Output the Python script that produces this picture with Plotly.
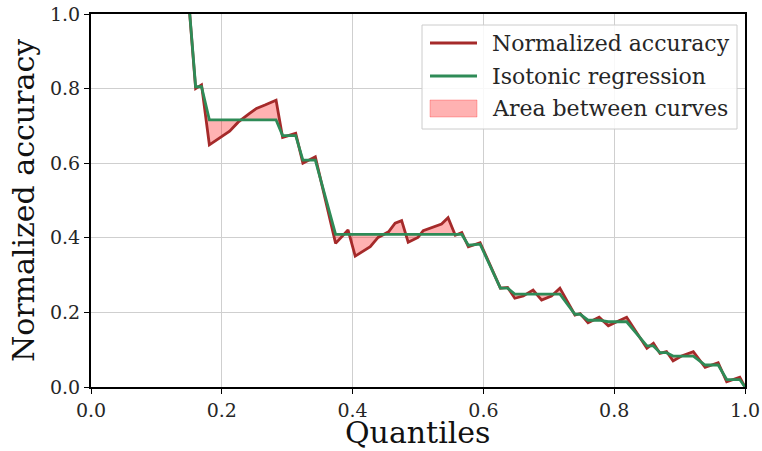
import plotly.graph_objects as go

quantiles = [0.140, 0.160, 0.169, 0.181, 0.212, 0.225, 0.243, 0.253, 0.266, 0.283,
             0.293, 0.313, 0.324, 0.343, 0.374, 0.393, 0.404, 0.427, 0.439, 0.455,
             0.465, 0.475, 0.485, 0.500, 0.508, 0.523, 0.536, 0.546, 0.557, 0.567,
             0.577, 0.595, 0.626, 0.637, 0.648, 0.661, 0.676, 0.689, 0.704, 0.717,
             0.740, 0.748, 0.760, 0.777, 0.791, 0.804, 0.819, 0.850, 0.860, 0.870,
             0.880, 0.890, 0.903, 0.921, 0.939, 0.959, 0.972, 0.992, 1.000]

normalized_accuracy = [1.240, 0.800, 0.810, 0.649, 0.686, 0.710, 0.734, 0.747, 0.756, 0.769,
                       0.669, 0.680, 0.600, 0.617, 0.385, 0.421, 0.351, 0.376, 0.401, 0.416,
                       0.439, 0.446, 0.388, 0.401, 0.419, 0.428, 0.437, 0.454, 0.407, 0.414,
                       0.376, 0.387, 0.265, 0.267, 0.238, 0.244, 0.260, 0.233, 0.244, 0.265,
                       0.193, 0.197, 0.172, 0.187, 0.164, 0.175, 0.187, 0.104, 0.117, 0.090,
                       0.095, 0.070, 0.083, 0.095, 0.053, 0.065, 0.014, 0.026, 0.000]

isotonic_regression = [1.240, 0.805, 0.805, 0.716, 0.716, 0.716, 0.716, 0.716, 0.716, 0.716,
                       0.674, 0.674, 0.608, 0.608, 0.409, 0.409, 0.409, 0.409, 0.409, 0.409,
                       0.409, 0.409, 0.409, 0.409, 0.409, 0.409, 0.409, 0.409, 0.409, 0.409,
                       0.380, 0.383, 0.265, 0.265, 0.249, 0.249, 0.249, 0.249, 0.249, 0.249,
                       0.195, 0.195, 0.179, 0.179, 0.175, 0.175, 0.175, 0.110, 0.110, 0.092,
                       0.092, 0.083, 0.083, 0.083, 0.059, 0.059, 0.020, 0.020, 0.000]

x_ticks = [0.0, 0.2, 0.4, 0.6, 0.8, 1.0]
y_ticks = [0.0, 0.2, 0.4, 0.6, 0.8, 1.0]
legend_labels = ["Normalized accuracy", "Isotonic regression", "Area between curves"]
x_title = "Quantiles"
y_title = "Normalized accuracy"

FONT = "DejaVu Serif"
RED = "#a52a2a"
GREEN = "#2e8b57"
FILL = "rgba(255,0,0,0.3)"

# plot-area geometry in pixels (for the hand-drawn legend / titles)
W, H = 762, 451
ML, MR, MT, MB = 91, 17, 14, 64
PW, PH = W - ML - MR, H - MT - MB


def px(x):
    return (x - ML) / PW


def py(y):
    return (H - MB - y) / PH


fig = go.Figure()
fig.add_trace(go.Scatter(x=quantiles, y=isotonic_regression, mode="lines",
                         line=dict(width=0, color="rgba(0,0,0,0)"),
                         showlegend=False, hoverinfo="skip"))
fig.add_trace(go.Scatter(x=quantiles, y=normalized_accuracy, mode="lines",
                         line=dict(width=0.8, color=FILL),
                         fill="tonexty", fillcolor=FILL, showlegend=False))
fig.add_trace(go.Scatter(x=quantiles, y=normalized_accuracy, mode="lines",
                         line=dict(width=2.8, color=RED), showlegend=False))
fig.add_trace(go.Scatter(x=quantiles, y=isotonic_regression, mode="lines",
                         line=dict(width=2.8, color=GREEN), showlegend=False))

axis_common = dict(
    showline=True, mirror=True, linecolor="black", linewidth=2,
    ticks="outside", ticklen=5, tickwidth=1.3, tickcolor="black",
    showgrid=True, gridcolor="#cfcfcf", gridwidth=1, zeroline=False,
    tickfont=dict(family=FONT, size=19, color="#262626"),
    tickformat=".1f", automargin=False,
)

# custom legend (matplotlib-style)
shapes = [
    dict(type="rect", xref="paper", yref="paper", layer="above",
         x0=px(422), x1=px(737), y0=py(129), y1=py(25),
         fillcolor="rgba(255,255,255,0.85)", line=dict(color="#cccccc", width=1)),
    dict(type="line", xref="paper", yref="paper", layer="above",
         x0=px(430), x1=px(477), y0=py(43), y1=py(43), line=dict(color=RED, width=2.8)),
    dict(type="line", xref="paper", yref="paper", layer="above",
         x0=px(430), x1=px(477), y0=py(76), y1=py(76), line=dict(color=GREEN, width=2.8)),
    dict(type="rect", xref="paper", yref="paper", layer="above",
         x0=px(430), x1=px(477), y0=py(117), y1=py(100),
         fillcolor=FILL, line=dict(color="rgba(255,0,0,0.25)", width=1)),
]
annotations = [
    dict(xref="paper", yref="paper", x=px(490), y=py(yy), xanchor="left", yanchor="middle",
         text=t, showarrow=False, font=dict(family=FONT, size=22, color="#262626"))
    for t, yy in zip(legend_labels, [43, 76, 109])
]
annotations.append(
    dict(xref="paper", yref="paper", x=0.5, y=py(432), xanchor="center", yanchor="middle",
         text=x_title, showarrow=False, borderpad=0,
         font=dict(family=FONT, size=30, color="#111111"))
)

fig.update_layout(
    width=W, height=H,
    margin=dict(l=ML, r=MR, t=MT, b=MB, autoexpand=False),
    paper_bgcolor="white", plot_bgcolor="white",
    font=dict(family=FONT, color="#262626"),
    xaxis=dict(range=[0, 1], tickvals=x_ticks, **axis_common),
    yaxis=dict(range=[0, 1], tickvals=y_ticks,
               title=dict(text=y_title, font=dict(family=FONT, size=30, color="#111111"), standoff=6),
               **axis_common),
    shapes=shapes,
    annotations=annotations,
    showlegend=False,
)

fig.write_html("out.html")
